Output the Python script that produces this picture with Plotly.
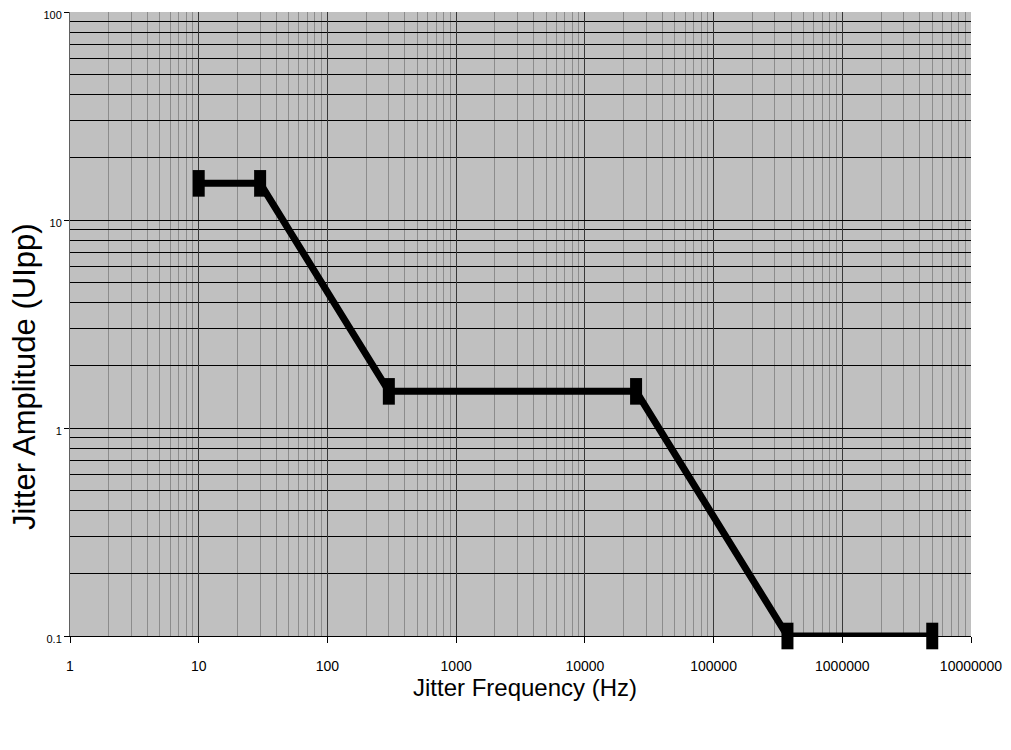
import plotly.graph_objects as go

# Jitter tolerance mask (frequency in Hz, amplitude in UIpp)
freq_hz = [10, 30, 300, 25000, 375000, 5000000]
amp_uipp = [15, 15, 1.5, 1.5, 0.1, 0.1]

x_tickvals = [1, 10, 100, 1000, 10000, 100000, 1000000, 10000000]
x_ticktext = ["1", "10", "100", "1000", "10000", "100000", "1000000", "10000000"]
y_tickvals = [0.1, 1, 10, 100]
y_ticktext = ["0.1", "1", "10", "100"]

_SANS = "Liberation Sans, Arial, sans-serif"

fig = go.Figure()

fig.add_trace(go.Scatter(
    x=freq_hz, y=amp_uipp,
    mode="lines+markers",
    line=dict(color="black", width=7),
    marker=dict(symbol="line-ns", size=19, color="black",
                line=dict(color="black", width=12)),
    cliponaxis=False,
    showlegend=False,
))

# page body has an 8px margin, so the figure is sized/offset to compensate
fig.update_layout(
    width=1003, height=742,
    paper_bgcolor="white", plot_bgcolor="#C0C0C0",
    margin=dict(l=62, r=40, t=4, b=114),
    font=dict(family=_SANS, color="black"),
    xaxis=dict(
        type="log", range=[0, 7], automargin=False,
        tickmode="array", tickvals=x_tickvals, ticktext=x_ticktext,
        tickfont=dict(family=_SANS, size=14),
        ticks="outside", ticklen=6, tickcolor="black",
        ticklabelstandoff=11, ticklabeloverflow="allow",
        showline=True, linecolor="black", linewidth=1,
        showgrid=True, gridcolor="#383838", gridwidth=1,
        minor=dict(dtick="D1", showgrid=True, gridcolor="#8C8C8C", gridwidth=1, ticks=""),
        zeroline=False,
    ),
    yaxis=dict(
        type="log", range=[-1, 2], automargin=False,
        tickmode="array", tickvals=y_tickvals, ticktext=y_ticktext,
        tickfont=dict(family=_SANS, size=11),
        ticks="outside", ticklen=5, tickcolor="black",
        ticklabeloverflow="allow", ticklabelshift=3,
        showline=True, linecolor="#606060", linewidth=1,
        showgrid=True, gridcolor="black", gridwidth=1,
        minor=dict(dtick="D1", showgrid=True, gridcolor="black", gridwidth=1, ticks=""),
        zeroline=False,
    ),
    annotations=[
        dict(text="Jitter Amplitude (UIpp)", textangle=-90,
             xref="paper", yref="paper", x=-0.051, y=0.415,
             xanchor="center", yanchor="middle", showarrow=False,
             font=dict(family=_SANS, size=31)),
        dict(text="Jitter Frequency (Hz)",
             xref="paper", yref="paper", x=0.505, y=-0.083,
             xanchor="center", yanchor="middle", showarrow=False,
             font=dict(family=_SANS, size=24)),
    ],
)

fig.write_html("out.html")
